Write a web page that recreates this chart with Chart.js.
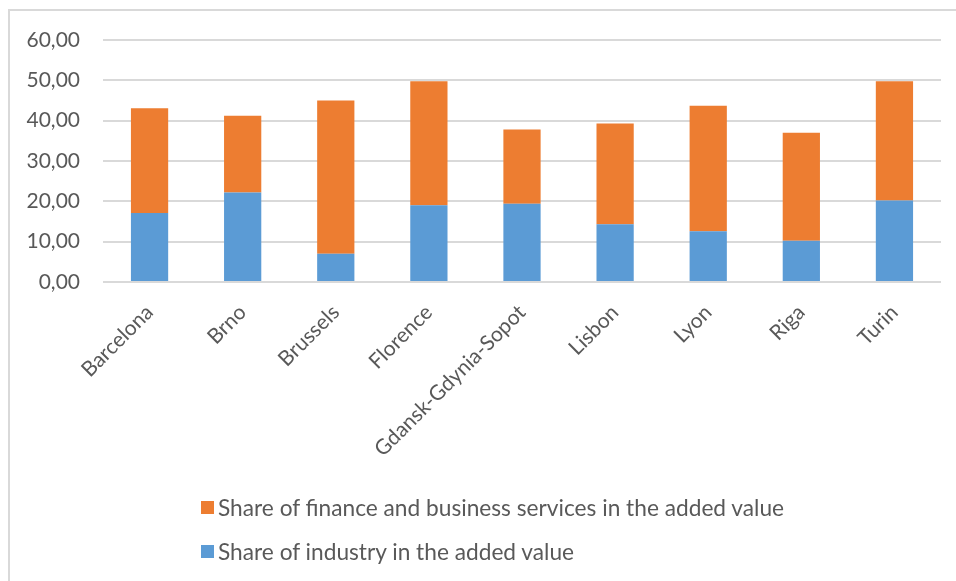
<!DOCTYPE html>
<html>
<head>
<meta charset="utf-8">
<script src="https://cdn.jsdelivr.net/npm/chart.js@4.4.1/dist/chart.umd.min.js"></script>
<style>
  body { margin: 0; background: #fff; }
  #wrap { position: relative; width: 956px; height: 581px; overflow: hidden; font-family: Lato, sans-serif; }
  #frame { position: absolute; left: 8px; top: 9px; width: 1000px; height: 1000px;
           border-left: 2px solid #d9d9d9; border-top: 2px solid #d9d9d9; }
  canvas { position: absolute; left: 0; top: 0; }
  #legend { position: absolute; left: 201px; top: 485px; color: #595959; font-size: 22.7px; }
  .item { display: flex; align-items: center; height: 44px; }
  .box { width: 13px; height: 13px; margin-right: 4px; }
</style>
</head>
<body>
<div id="wrap">
  <div id="frame"></div>
  <canvas id="chart" width="956" height="581"></canvas>
  <div id="legend"></div>
</div>
<script>
// Cities on the x axis
const cities = ['Barcelona', 'Brno', 'Brussels', 'Florence', 'Gdansk-Gdynia-Sopot', 'Lisbon', 'Lyon', 'Riga', 'Turin'];

// Shares in the added value (%)
const industryShare = [17.1, 22.2, 7.0, 19.0, 19.4, 14.3, 12.6, 10.2, 20.2];
const financeShare = [26.0, 19.0, 38.0, 30.8, 18.4, 25.0, 31.1, 26.8, 29.6];

// Y axis range
const yMin = 0;
const yMax = 60;
const yStep = 10;

const textColor = '#595959';
const gridColor = '#d9d9d9';

const ctx = document.getElementById('chart').getContext('2d');
const chart = new Chart(ctx, {
    type: 'bar',
    data: {
        labels: cities,
        datasets: [
            {
                label: 'Share of industry in the added value',
                data: industryShare,
                backgroundColor: '#5b9bd5'
            },
            {
                label: 'Share of finance and business services in the added value',
                data: financeShare,
                backgroundColor: '#ed7d31'
            }
        ]
    },
    options: {
        responsive: false,
        animation: false,
        barPercentage: 0.4,
        categoryPercentage: 1.0,
        layout: { padding: { top: 40, left: 0, right: 15, bottom: 0 } },
        plugins: {
            legend: { display: false },
            tooltip: { enabled: false }
        },
        scales: {
            x: {
                stacked: true,
                grid: { display: false, drawTicks: false },
                border: { display: false },
                ticks: {
                    color: textColor,
                    font: { family: 'Lato', size: 21 },
                    minRotation: 45,
                    maxRotation: 45,
                    padding: 18
                },
                afterFit: (scale) => { scale.height = 299; }
            },
            y: {
                stacked: true,
                min: yMin,
                max: yMax,
                grid: { color: gridColor, lineWidth: 2, drawTicks: false },
                border: { display: false },
                ticks: {
                    stepSize: yStep,
                    color: textColor,
                    font: { family: 'Lato', size: 21 },
                    padding: 23,
                    callback: (v) => v.toFixed(2).replace('.', ',')
                },
                afterFit: (scale) => { scale.width = 103; }
            }
        }
    }
});

// Legend list, finance first like the original
const legend = document.getElementById('legend');
chart.data.datasets.slice().reverse().forEach(ds => {
    const item = document.createElement('div');
    item.className = 'item';
    item.innerHTML = `<span class="box" style="background:${ds.backgroundColor}"></span><span>${ds.label}</span>`;
    legend.appendChild(item);
});
</script>
</body>
</html>
